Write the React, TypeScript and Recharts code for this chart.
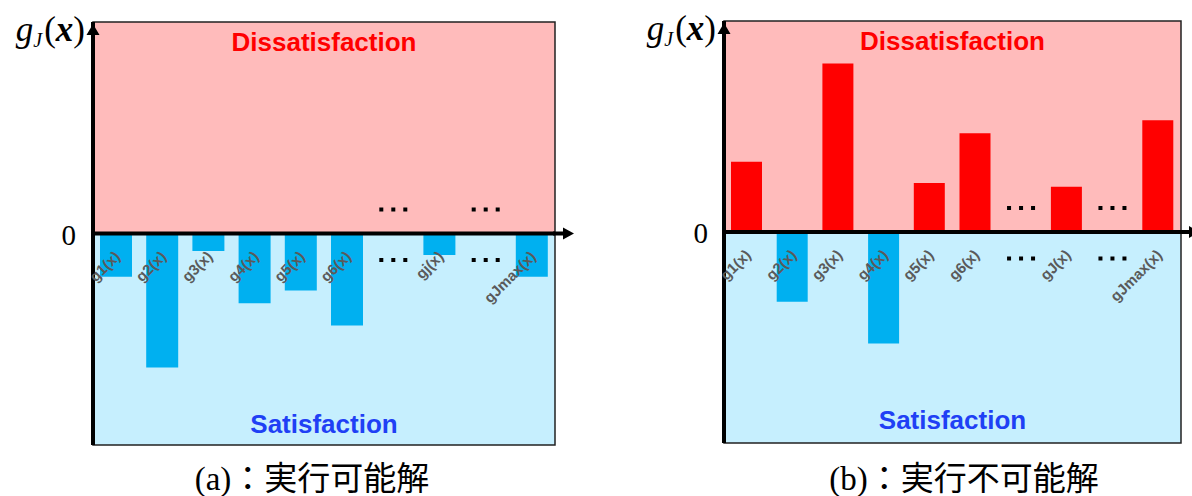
import React from "react";
import {
  Bar,
  BarChart,
  CartesianGrid,
  Cell,
  ReferenceArea,
  ReferenceLine,
  XAxis,
  YAxis,
} from "recharts";

// panel (a): feasible solution, every constraint value below zero
const categoriesA = ["g1(x)", "g2(x)", "g3(x)", "g4(x)", "g5(x)", "g6(x)", "…", "gj(x)", "…", "gJmax(x)"];
const valuesA = [-20.5, -63.4, -8.3, -33, -27, -43.5, null, -10.2, null, -20.5];

// panel (b): infeasible solution, some constraints above zero
const categoriesB = ["g1(x)", "g2(x)", "g3(x)", "g4(x)", "g5(x)", "g6(x)", "…", "gJ(x)", "…", "gJmax(x)"];
const valuesB = [33.3, -33, 79.8, -52.8, 23.2, 46.8, null, 21.5, null, 53];

const yTicks = [-100, 0, 100];
const yDomain: [number, number] = [-100, 100];
const upperText = "Dissatisfaction";
const lowerText = "Satisfaction";
const captionA = "(a)：実行可能解";
const captionB = "(b)：実行不可能解";

const PINK = "#FFBBBB";
const SKY = "#C6EFFE";
const BAR_BLUE = "#00B0F0";
const BAR_RED = "#FF0000";
const CHART_H = 470;
const SANS = "'Liberation Sans', Arial, sans-serif";
const SERIF = "'Liberation Serif', 'Times New Roman', serif";

const CategoryTick = ({ x, payload, zeroY }: any) => {
  if (payload.value === "…") {
    return (
      <g>
        {[-12, 0, 12].map((dx) => (
          <React.Fragment key={dx}>
            <rect x={x + dx - 2} y={zeroY - 26} width={4} height={4} fill="#000" />
            <rect x={x + dx - 2} y={zeroY + 24.5} width={4} height={4} fill="#000" />
          </React.Fragment>
        ))}
      </g>
    );
  }
  const tx = x + 5;
  const ty = zeroY + 24;
  return (
    <text
      x={tx}
      y={ty}
      transform={`rotate(-45 ${tx} ${ty})`}
      textAnchor="end"
      fill="#5A5A5A"
      fontSize={15}
      fontWeight="bold"
      fontFamily={SANS}
    >
      {payload.value}
    </text>
  );
};

// only the zero tick gets a label
const ZeroTick = ({ x, y, payload }: any) =>
  payload.value === 0 ? (
    <text x={x} y={y} dy={11} textAnchor="end" fill="#000" fontSize={29} fontFamily={SERIF}>
      {payload.value}
    </text>
  ) : (
    <g />
  );

const YAxisHead = (props: any) => {
  const { x, y, width } = props.viewBox;
  const ax = x + width;
  return (
    <g>
      <polygon points={`${ax},${y + 2} ${ax - 6.5},${y + 13} ${ax + 6.5},${y + 13}`} fill="#000" />
      <text x={ax - 8} y={y + 19} textAnchor="end" fontFamily={SERIF} fontSize={35} fill="#000">
        <tspan fontStyle="italic">g</tspan>
        <tspan fontStyle="italic" fontSize={20} dy={6}>J</tspan>
        <tspan dy={-6} dx={2}>(</tspan>
        <tspan fontStyle="italic" fontWeight="bold">x</tspan>
        <tspan>)</tspan>
      </text>
    </g>
  );
};

const XArrow = (props: any) => {
  const { x, y, width } = props.viewBox;
  const end = x + width;
  return (
    <g>
      <line x1={end - 2} y1={y} x2={end + 10} y2={y} stroke="#000" strokeWidth={4} />
      <polygon points={`${end + 19},${y} ${end + 8},${y - 6} ${end + 8},${y + 6}`} fill="#000" />
    </g>
  );
};

interface PanelProps {
  categories: string[];
  values: (number | null)[];
  width: number;
  margin: { top: number; right: number; bottom: number; left: number };
  axisWidth: number;
  barSize: number;
  tickMargin: number;
  lowerOffset: number;
}

const Panel = ({ categories, values, width, margin, axisWidth, barSize, tickMargin, lowerOffset }: PanelProps) => {
  const data = categories.map((name, i) => ({ name, value: values[i] }));
  const plotH = CHART_H - margin.top - margin.bottom - 1;
  const zeroY = margin.top + (plotH * yDomain[1]) / (yDomain[1] - yDomain[0]);

  return (
    <BarChart width={width} height={CHART_H} data={data} margin={margin}>
      <CartesianGrid
        vertical={false}
        stroke="none"
        horizontalFill={[PINK, SKY]}
        fillOpacity={1}
      />
      <ReferenceArea
        y1={0}
        y2={yDomain[1]}
        fill="none"
        stroke="none"
        label={{
          value: upperText,
          position: "insideTop",
          offset: 11,
          fill: "#FF0000",
          fontSize: 26,
          fontWeight: "bold",
          fontFamily: SANS,
        }}
      />
      <ReferenceArea
        y1={yDomain[0]}
        y2={0}
        fill="none"
        stroke="none"
        label={{
          value: lowerText,
          position: "insideBottom",
          offset: lowerOffset,
          fill: "#1F40F5",
          fontSize: 26,
          fontWeight: "bold",
          fontFamily: SANS,
        }}
      />
      <ReferenceArea y1={yDomain[0]} y2={yDomain[1]} fill="none" stroke="#222" strokeWidth={1.5} />
      <YAxis
        domain={yDomain}
        ticks={yTicks}
        width={axisWidth}
        allowDataOverflow
        axisLine={{ stroke: "#000", strokeWidth: 4 }}
        tickLine={false}
        tickMargin={tickMargin}
        tick={(p: any) => <ZeroTick {...p} />}
        label={(p: any) => <YAxisHead {...p} />}
      />
      <Bar dataKey="value" barSize={barSize} isAnimationActive={false}>
        {data.map((d, i) => (
          <Cell key={`cell-${i}`} fill={d.value != null && d.value < 0 ? BAR_BLUE : BAR_RED} />
        ))}
      </Bar>
      <ReferenceLine y={0} stroke="#000" strokeWidth={4} label={(p: any) => <XArrow {...p} />} />
      <XAxis
        dataKey="name"
        height={1}
        axisLine={false}
        tickLine={false}
        interval={0}
        tick={(p: any) => <CategoryTick {...p} zeroY={zeroY} />}
      />
    </BarChart>
  );
};

const captionStyle: React.CSSProperties = {
  position: "absolute",
  top: 461,
  height: 36,
  lineHeight: "36px",
  fontSize: 33,
  fontFamily: "'Liberation Serif', 'Noto Sans CJK JP', serif",
  textAlign: "center",
  color: "#000",
  whiteSpace: "nowrap",
};

export default function App() {
  return (
    <div style={{ position: "absolute", left: 0, top: 0, width: 1192, height: 496, background: "#fff", overflow: "hidden" }}>
      <div style={{ position: "absolute", left: 0, top: 0 }}>
        <Panel
          categories={categoriesA}
          values={valuesA}
          width={600}
          margin={{ top: 22, right: 45, bottom: 24, left: 0 }}
          axisWidth={93}
          barSize={32}
          tickMargin={11}
          lowerOffset={12}
        />
      </div>
      <div style={{ position: "absolute", left: 600, top: 0 }}>
        <Panel
          categories={categoriesB}
          values={valuesB}
          width={592}
          margin={{ top: 21, right: 11, bottom: 26, left: 0 }}
          axisWidth={124}
          barSize={31}
          tickMargin={10}
          lowerOffset={14}
        />
      </div>
      <div style={{ ...captionStyle, left: 162, width: 300 }}>{captionA}</div>
      <div style={{ ...captionStyle, left: 814, width: 300 }}>{captionB}</div>
    </div>
  );
}
